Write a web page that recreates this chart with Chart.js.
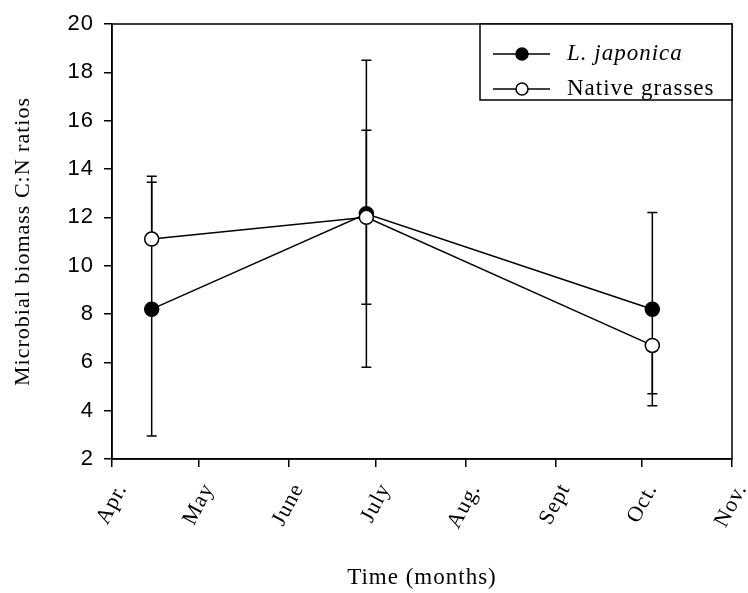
<!DOCTYPE html>
<html lang="en">
<head>
    <meta charset="UTF-8">
    <title>Microbial biomass C:N ratios</title>
    <script src="https://cdn.jsdelivr.net/npm/chart.js"></script>
    <style>
        body, html {
            margin: 0;
            padding: 0;
            background: #ffffff;
        }
        .chart-container {
            position: relative;
            width: 748px;
            height: 593px;
        }
    </style>
</head>
<body>
    <div class="chart-container">
        <canvas id="cnChart"></canvas>
    </div>

    <script>
        // month boundaries (days since Apr 1) and their labels
        const monthLabels = ['Apr.', 'May', 'June', 'July', 'Aug.', 'Sept', 'Oct.', 'Nov.'];
        const monthStarts = [0, 30, 61, 91, 122, 153, 183, 214];

        // sampling dates, days since Apr 1
        const sampleDays = [13.7, 87.8, 186.5];

        const japonicaValues = [8.2, 12.15, 8.2];
        const japonicaErrUp = [5.25, 6.35, 4.0];
        const japonicaErrDown = [5.25, 6.35, 4.0];

        const nativeValues = [11.1, 12.0, 6.7];
        const nativeErrUp = [2.6, 3.6, 0];
        const nativeErrDown = [0, 3.6, 2.0];

        const yTicks = [2, 4, 6, 8, 10, 12, 14, 16, 18, 20];

        const serif = '"Liberation Serif", "Times New Roman", serif';
        const sans = '"Liberation Sans", Arial, sans-serif';

        function toPoints(values) {
            return values.map((v, i) => ({ x: sampleDays[i], y: v }));
        }

        // the original bitmap fonts are set quite loose
        const spacingPlugin = {
            id: 'spacing',
            beforeLayout(chart) { chart.ctx.letterSpacing = '1px'; },
            beforeDraw(chart) { chart.ctx.letterSpacing = '1px'; }
        };

        // error bars drawn under the markers
        const errorBarPlugin = {
            id: 'errorBars',
            beforeDatasetsDraw(chart) {
                const ctx = chart.ctx;
                const xs = chart.scales.x;
                const ys = chart.scales.y;
                const sets = [
                    [japonicaValues, japonicaErrUp, japonicaErrDown],
                    [nativeValues, nativeErrUp, nativeErrDown]
                ];
                ctx.save();
                ctx.strokeStyle = '#000';
                ctx.lineWidth = 1.5;
                sets.forEach(([vals, up, down]) => {
                    vals.forEach((v, i) => {
                        const px = xs.getPixelForValue(sampleDays[i]);
                        const pTop = ys.getPixelForValue(v + up[i]);
                        const pBot = ys.getPixelForValue(v - down[i]);
                        ctx.beginPath();
                        ctx.moveTo(px, pTop);
                        ctx.lineTo(px, pBot);
                        if (up[i] > 0) {
                            ctx.moveTo(px - 5, pTop);
                            ctx.lineTo(px + 5, pTop);
                        }
                        if (down[i] > 0) {
                            ctx.moveTo(px - 5, pBot);
                            ctx.lineTo(px + 5, pBot);
                        }
                        ctx.stroke();
                    });
                });
                ctx.restore();
            }
        };

        // plot frame and legend box
        const framePlugin = {
            id: 'frame',
            afterDraw(chart) {
                const ctx = chart.ctx;
                const a = chart.chartArea;
                ctx.save();
                ctx.strokeStyle = '#000';
                ctx.lineWidth = 1.5;
                ctx.strokeRect(a.left, a.top, a.right - a.left, a.bottom - a.top);

                // legend
                const lx = 480, ly = a.top, lw = a.right - lx, lh = 76;
                ctx.fillStyle = '#fff';
                ctx.fillRect(lx, ly, lw, lh);
                ctx.strokeRect(lx, ly, lw, lh);

                const rows = [
                    { label: 'L. japonica', fill: '#000', font: 'italic 23px ' + serif, y: ly + 30 },
                    { label: 'Native grasses', fill: '#fff', font: '23px ' + serif, y: ly + 65 }
                ];
                rows.forEach(r => {
                    ctx.beginPath();
                    ctx.moveTo(lx + 13, r.y);
                    ctx.lineTo(lx + 70, r.y);
                    ctx.stroke();
                    ctx.beginPath();
                    ctx.arc(lx + 42, r.y, 6, 0, Math.PI * 2);
                    ctx.fillStyle = r.fill;
                    ctx.fill();
                    ctx.stroke();
                    ctx.fillStyle = '#000';
                    ctx.font = r.font;
                    ctx.textBaseline = 'middle';
                    ctx.fillText(r.label, lx + 87, r.y);
                });
                ctx.restore();
            }
        };

        const ctx = document.getElementById('cnChart').getContext('2d');

        new Chart(ctx, {
            type: 'line',
            data: {
                datasets: [{
                    label: 'L. japonica',
                    data: toPoints(japonicaValues),
                    borderColor: '#000',
                    backgroundColor: '#000',
                    borderWidth: 1.5,
                    pointRadius: 7,
                    pointBorderWidth: 1.5,
                    pointBorderColor: '#000',
                    pointBackgroundColor: '#000',
                    order: 2
                }, {
                    label: 'Native grasses',
                    data: toPoints(nativeValues),
                    borderColor: '#000',
                    backgroundColor: '#fff',
                    borderWidth: 1.5,
                    pointRadius: 7,
                    pointBorderWidth: 1.5,
                    pointBorderColor: '#000',
                    pointBackgroundColor: '#fff',
                    order: 1
                }]
            },
            options: {
                responsive: true,
                maintainAspectRatio: false,
                animation: false,
                layout: {
                    autoPadding: false,
                    padding: { left: 0, top: 24, right: 16, bottom: 0 }
                },
                plugins: {
                    legend: { display: false },
                    tooltip: { enabled: false }
                },
                scales: {
                    x: {
                        type: 'linear',
                        min: 0,
                        max: 214,
                        afterBuildTicks(scale) {
                            scale.ticks = monthStarts.map(v => ({ value: v }));
                        },
                        afterFit(scale) {
                            scale.height = 134;
                            scale.paddingLeft = 0;
                            scale.paddingRight = 0;
                        },
                        grid: {
                            drawOnChartArea: false,
                            color: '#000',
                            lineWidth: 1.5,
                            tickLength: 8
                        },
                        border: { color: '#000', width: 1.5 },
                        ticks: {
                            minRotation: 62,
                            maxRotation: 62,
                            padding: 12,
                            labelOffset: 10,
                            color: '#000',
                            font: { family: serif, size: 22 },
                            callback: value => monthLabels[monthStarts.indexOf(value)]
                        },
                        title: {
                            display: true,
                            text: 'Time (months)',
                            color: '#000',
                            font: { family: serif, size: 23 },
                            padding: { top: 0, bottom: 1 }
                        }
                    },
                    y: {
                        min: 2,
                        max: 20,
                        afterBuildTicks(scale) {
                            scale.ticks = yTicks.map(v => ({ value: v }));
                        },
                        afterFit(scale) {
                            scale.width = 112;
                            scale.paddingTop = 0;
                            scale.paddingBottom = 0;
                        },
                        grid: {
                            drawOnChartArea: false,
                            color: '#000',
                            lineWidth: 1.5,
                            tickLength: 8
                        },
                        border: { color: '#000', width: 1.5 },
                        ticks: {
                            color: '#000',
                            padding: 10,
                            font: { family: sans, size: 22 }
                        },
                        title: {
                            display: true,
                            text: 'Microbial biomass C:N ratios',
                            color: '#000',
                            font: { family: serif, size: 22 },
                            padding: { top: 10, bottom: 0 }
                        }
                    }
                }
            },
            plugins: [spacingPlugin, errorBarPlugin, framePlugin]
        });
    </script>
</body>
</html>
